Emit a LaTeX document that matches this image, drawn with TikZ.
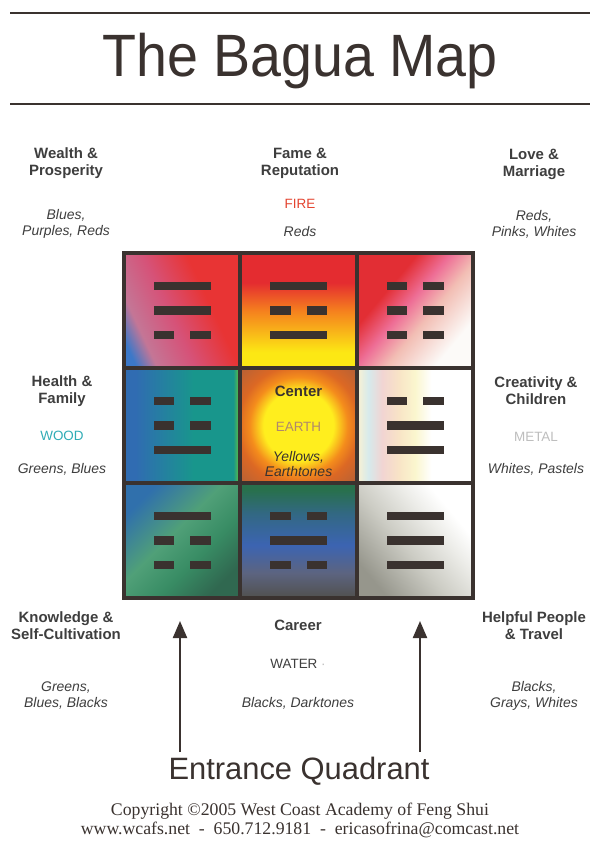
\documentclass[tikz,border=0pt]{standalone}
\usepackage{fontspec}
\setmainfont{Liberation Sans}
\newfontfamily\copyfont{Liberation Serif}
\usetikzlibrary{positioning,arrows.meta,calc}
\definecolor{ink}{RGB}{58,50,47}
\definecolor{label}{RGB}{62,62,62}
\definecolor{firered}{RGB}{228,68,48}
\definecolor{woodteal}{RGB}{48,172,182}
\definecolor{earthtan}{RGB}{176,136,108}
\definecolor{metalgray}{RGB}{190,190,190}
% cell colours
\definecolor{wBlue}{RGB}{60,120,200}
\definecolor{wMauve}{RGB}{196,118,150}
\definecolor{wPink}{RGB}{214,82,120}
\definecolor{wRed}{RGB}{232,52,52}
\definecolor{fRed}{RGB}{228,44,48}
\definecolor{fOrange}{RGB}{245,128,30}
\definecolor{fYellow}{RGB}{252,232,20}
\definecolor{lRed}{RGB}{226,46,52}
\definecolor{lPink}{RGB}{238,110,150}
\definecolor{lBlush}{RGB}{242,190,180}
\definecolor{lWhite}{RGB}{252,250,248}
\definecolor{hBlue}{RGB}{48,108,178}
\definecolor{hTeal}{RGB}{24,150,140}
\definecolor{hGreen}{RGB}{110,200,50}
\definecolor{eYellow}{RGB}{255,238,30}
\definecolor{eOrange}{RGB}{244,140,28}
\definecolor{eRust}{RGB}{220,104,36}
\definecolor{eBrown}{RGB}{178,96,56}
\definecolor{cCream}{RGB}{244,240,214}
\definecolor{cIce}{RGB}{214,234,236}
\definecolor{cRose}{RGB}{242,212,210}
\definecolor{cPeach}{RGB}{248,228,198}
\definecolor{cLemon}{RGB}{250,246,206}
\definecolor{kBlue}{RGB}{48,112,172}
\definecolor{kSea}{RGB}{80,160,120}
\definecolor{kGreen}{RGB}{56,140,100}
\definecolor{kDeep}{RGB}{48,104,80}
\definecolor{rGreen}{RGB}{40,112,76}
\definecolor{rTeal}{RGB}{50,104,130}
\definecolor{rBlue}{RGB}{60,100,178}
\definecolor{rSlate}{RGB}{92,100,128}
\definecolor{rGray}{RGB}{82,82,82}
\definecolor{pGray}{RGB}{150,150,140}
\definecolor{pSilver}{RGB}{204,204,196}
\definecolor{pPale}{RGB}{236,236,232}

\pgfdeclarehorizontalshading{wealthshade}{100bp}{color(0bp)=(wBlue); color(22bp)=(wBlue);
  color(30bp)=(wMauve); color(45bp)=(wPink); color(62bp)=(wRed); color(100bp)=(wRed)}
\pgfdeclareverticalshading{fameshade}{100bp}{color(0bp)=(fYellow); color(32bp)=(fYellow);
  color(50bp)=(fOrange); color(62bp)=(fRed); color(100bp)=(fRed)}
\pgfdeclarehorizontalshading{loveshade}{100bp}{color(0bp)=(lRed); color(35bp)=(lRed);
  color(46bp)=(lPink); color(56bp)=(lBlush); color(72bp)=(lWhite); color(100bp)=(lWhite)}
\pgfdeclarehorizontalshading{healthshade}{100bp}{color(0bp)=(hBlue); color(30bp)=(hBlue);
  color(55bp)=(hTeal); color(72bp)=(hTeal); color(75bp)=(hGreen); color(100bp)=(hGreen)}
\pgfdeclareradialshading{earthshade}{\pgfpoint{0bp}{0bp}}{color(0bp)=(eYellow);
  color(15bp)=(eYellow); color(21bp)=(eOrange); color(26bp)=(eRust); color(36bp)=(eBrown);
  color(50bp)=(eBrown)}
\pgfdeclarehorizontalshading{creativeshade}{100bp}{color(0bp)=(cCream); color(26bp)=(cCream);
  color(30bp)=(cIce); color(36bp)=(cRose); color(43bp)=(cPeach); color(50bp)=(cLemon);
  color(57bp)=(white); color(100bp)=(white)}
\pgfdeclarehorizontalshading{knowledgeshade}{100bp}{color(0bp)=(kBlue); color(25bp)=(kBlue);
  color(45bp)=(kSea); color(60bp)=(kGreen); color(75bp)=(kDeep); color(100bp)=(kDeep)}
\pgfdeclareverticalshading{careershade}{100bp}{color(0bp)=(rGray); color(26bp)=(rGray);
  color(36bp)=(rSlate); color(48bp)=(rBlue); color(62bp)=(rTeal); color(72bp)=(rGreen);
  color(100bp)=(rGreen)}
\pgfdeclarehorizontalshading{helpfulshade}{100bp}{color(0bp)=(pGray); color(25bp)=(pGray);
  color(45bp)=(pSilver); color(60bp)=(pPale); color(70bp)=(white); color(100bp)=(white)}

% one trigram: #1 cell node, #2 lines top to bottom (1 = whole, 0 = broken)
\newcommand{\trigram}[2]{%
  \foreach \yao [count=\k] in {#2} {
    \ifnum\yao=1
      \fill[bar] ($(#1)+(-28.5,\k*24.5-53.25)$) rectangle ++(57,8.5);
    \else
      \fill[bar] ($(#1)+(-28.5,\k*24.5-53.25)$) rectangle ++(20.5,8.5);
      \fill[bar] ($(#1)+(8,\k*24.5-53.25)$) rectangle ++(20.5,8.5);
    \fi}}

\begin{document}
\begin{tikzpicture}[x=1bp,y=-1bp,>=Latex,
    area/.style={font=\bfseries\fontsize{15}{17}\selectfont,text=label,align=center,inner sep=0pt},
    element/.style={font=\fontsize{13.5}{15}\selectfont,inner sep=0pt},
    tones/.style={font=\itshape\fontsize{14}{16}\selectfont,text=label,align=center,inner sep=0pt},
    cell/.style={minimum width=116.5bp,minimum height=115.5bp,inner sep=0pt},
    bar/.style={fill=ink},
    grid/.style={draw=ink,line width=4.5bp},
    rule/.style={draw=ink,line width=2bp},
    arr/.style={draw=ink,line width=2.2bp,-{Triangle[length=17bp,width=14bp]}}]
  \fill[white] (0,0) rectangle (600,845);

  % heading
  \draw[rule] (10,13) -- (590,13);
  \draw[rule] (10,104) -- (590,104);
  \node[text=ink,font=\fontsize{60}{60}\selectfont,inner sep=0pt] (title) at (300,61)
    {\scalebox{0.93}[1]{The Bagua Map}};

  % the nine cells
  \node[cell,shading=wealthshade,shading angle=25] (wealth) at (182,310.5) {};
  \node[cell,shading=fameshade] (fame) at (298.5,310.5) {};
  \node[cell,shading=loveshade,shading angle=-40] (love) at (415,310.5) {};
  \node[cell,shading=healthshade] (health) at (182,425.5) {};
  \node[cell,shading=earthshade] (earth) at (298.5,425.5) {};
  \node[cell,shading=creativeshade] (creative) at (415,425.5) {};
  \node[cell,shading=knowledgeshade,shading angle=-45] (knowledge) at (182,540.5) {};
  \node[cell,shading=careershade] (career) at (298.5,540.5) {};
  \node[cell,shading=helpfulshade,shading angle=40] (helpful) at (415,540.5) {};
  \draw[grid] (124,253) rectangle (473,598);
  \draw[grid] (240,253) -- (240,598) (357,253) -- (357,598);
  \draw[grid] (124,368) -- (473,368) (124,483) -- (473,483);

  \trigram{wealth}{1,1,0}
  \trigram{fame}{1,0,1}
  \trigram{love}{0,0,0}
  \trigram{health}{0,0,1}
  \trigram{creative}{0,1,1}
  \trigram{knowledge}{1,0,0}
  \trigram{career}{0,1,0}
  \trigram{helpful}{1,1,1}

  % centre
  \node[area,text=ink] (centre) at (298.5,391) {Center};
  \node[element,text=earthtan] (earthname) at (298.5,427) {EARTH};
  \node[tones,text=ink] (earthtones) at (298.5,464) {Yellows,\\Earthtones};

  % top row
  \node[area] (wealthname) at (66,163.5) {Wealth \&\\Prosperity};
  \node[tones] (wealthtones) at (66,223.5) {Blues,\\Purples, Reds};
  \node[area] (famename) at (300,163.5) {Fame \&\\Reputation};
  \node[element,text=firered] (fire) at (300,204) {FIRE};
  \node[tones] (firetones) at (300,232) {Reds};
  \node[area] (lovename) at (534,164) {Love \&\\Marriage};
  \node[tones] (lovetones) at (534,224) {Reds,\\Pinks, Whites};

  % middle row
  \node[area] (healthname) at (62,391) {Health \&\\Family};
  \node[element,text=woodteal] (wood) at (62,436) {WOOD};
  \node[tones] (woodtones) at (62,469) {Greens, Blues};
  \node[area] (creativename) at (536,391) {Creativity \&\\Children};
  \node[element,text=metalgray] (metal) at (536,437) {METAL};
  \node[tones] (metaltones) at (536,469) {Whites, Pastels};

  % bottom row
  \node[area] (knowledgename) at (66,625.5) {Knowledge \&\\Self-Cultivation};
  \node[tones] (knowledgetones) at (66,695.5) {Greens,\\Blues, Blacks};
  \node[area] (careername) at (298,625) {Career};
  \node[element,text=label] (water) at (298,664) {WATER \textcolor{metalgray}{·}};
  \node[tones] (watertones) at (298,703) {Blacks, Darktones};
  \node[area] (helpfulname) at (534,625.5) {Helpful People\\\& Travel};
  \node[tones] (helpfultones) at (534,695.5) {Blacks,\\Grays, Whites};

  % entrance
  \node[text=ink,font=\fontsize{31}{31}\selectfont,inner sep=0pt] (entrance) at (299,771)
    {Entrance Quadrant};
  \coordinate (tailL) at (180,752);
  \coordinate (tipL) at (180,621);
  \coordinate (tailR) at (420,752);
  \coordinate (tipR) at (420,621);
  \draw[arr] (tailL) -- (tipL);
  \draw[arr] (tailR) -- (tipR);

  \node[text=ink,font=\copyfont\fontsize{17.8}{19.5}\selectfont,align=center,inner sep=0pt]
    (copyright) at (300,820.5)
    {Copyright ©2005 West Coast Academy of Feng Shui\\
     www.wcafs.net \ - \ 650.712.9181 \ - \ ericasofrina@comcast.net};
\end{tikzpicture}
\end{document}
